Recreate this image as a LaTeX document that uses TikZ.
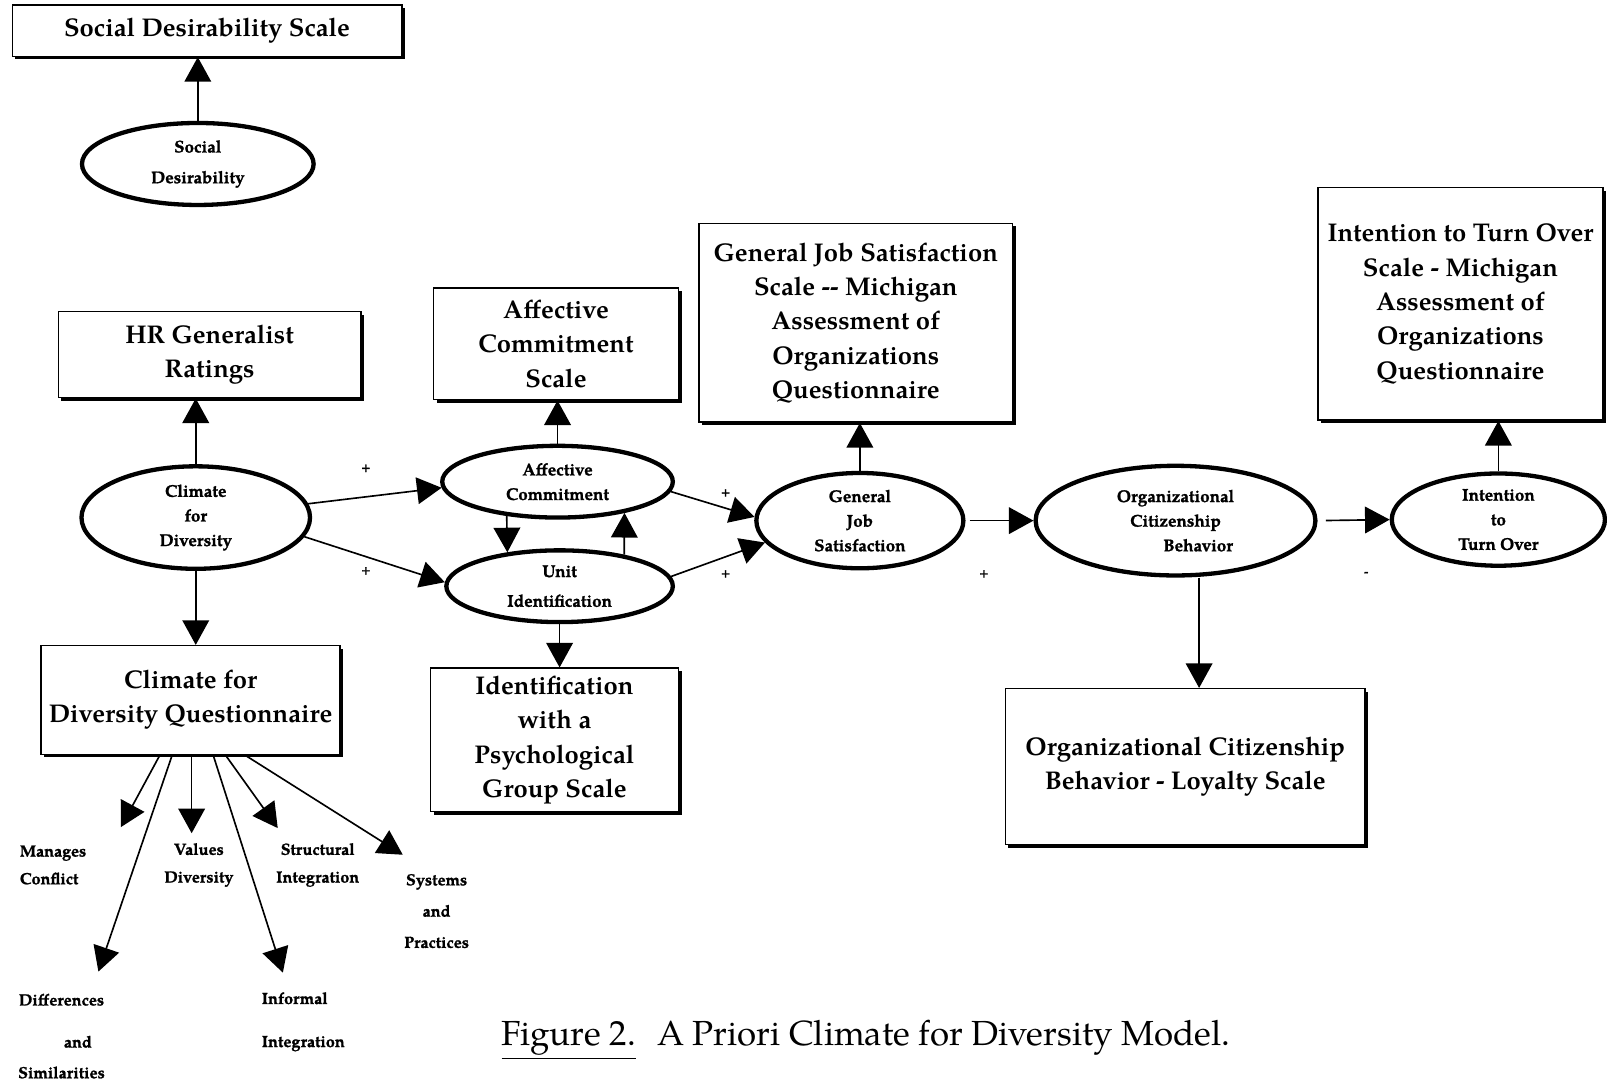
\documentclass[tikz,border=0pt]{standalone}
\usepackage{fontspec}
\setmainfont{texgyrepagella}[Extension=.otf, UprightFont=*-regular, BoldFont=*-bold, ItalicFont=*-italic, BoldItalicFont=*-bolditalic]
\newfontfamily\heavy{texgyrepagella-bold.otf}[FakeBold=1.3]
\usetikzlibrary{shapes.geometric, arrows.meta, shadows, calc}

\newcommand\boxfont{\fontsize{12.5}{16.75}\selectfont\bfseries}
\newcommand\ellfont{\fontsize{8.3}{12}\selectfont\heavy}
\newcommand\subfont{\fontsize{7.9}{13.5}\selectfont\heavy}

\begin{document}
\begin{tikzpicture}[x=0.5pt, y=-0.5pt,
  scalebox/.style={draw, line width=0.75pt, fill=white, align=center, inner sep=0pt,
    font=\boxfont, drop shadow={shadow xshift=1.5pt, shadow yshift=-1.5pt, opacity=1, fill=black}},
  latent/.style={ellipse, draw, line width=2.1pt, fill=white, inner sep=0pt, align=center},
  arr/.style={line width=0.8pt, -{Triangle[length=12pt,width=13pt]}},
  sign/.style={font=\fontsize{6}{6}\selectfont\heavy, inner sep=0pt},
  item/.style={font=\subfont, inner sep=0pt},
]
\useasboundingbox (0,0) rectangle (1568,1058);

% measurement boxes and latent constructs
\node[scalebox, minimum width=190pt, minimum height=25pt] (sds) at (202,30) {Social Desirability Scale};
\node[latent, minimum width=113pt, minimum height=40pt, font=\fontsize{8.3}{15}\selectfont\heavy] (sd) at (193,160) {Social\\Desirability};

\node[scalebox, minimum width=147.5pt, minimum height=42pt] (hr) at (204.5,346) {HR Generalist\\Ratings};
\node[latent, minimum width=111.5pt, minimum height=50pt, font=\ellfont] (cfd) at (191,505) {Climate\\for\\Diversity};
\node[scalebox, minimum width=146pt, minimum height=53pt] (cdq) at (186,683) {Climate for\\Diversity Questionnaire};

\node[scalebox, minimum width=119.5pt, minimum height=54.5pt] (acs) at (542.5,335.5) {Affective\\Commitment\\Scale};
\node[latent, minimum width=112.5pt, minimum height=35pt, font=\ellfont] (ac) at (544,470) {Affective\\Commitment};
\node[latent, minimum width=110.5pt, minimum height=35pt, font=\fontsize{8.3}{14.5}\selectfont\heavy] (ui) at (546,572) {Unit\\Identification};
\node[scalebox, minimum width=121pt, minimum height=70pt] (ipgs) at (541,722) {Identification\\with a\\Psychological\\Group Scale};

\node[scalebox, minimum width=153pt, minimum height=97pt] (gjsb) at (835,315) {General Job Satisfaction\\Scale -{}- Michigan\\Assessment of\\Organizations\\Questionnaire};
\node[latent, minimum width=101pt, minimum height=46.5pt, font=\ellfont] (gjs) at (839,508) {General\\Job\\Satisfaction};

\node[latent, minimum width=136.5pt, minimum height=53.5pt, font=\ellfont] (ocb) at (1147,508) {Organizational\\Citizenship\hspace*{4.5pt}\\\hspace*{22pt}Behavior};
\node[scalebox, minimum width=175.5pt, minimum height=76pt] (ocbl) at (1156.5,748) {Organizational Citizenship\\Behavior - Loyalty Scale};

\node[latent, minimum width=104pt, minimum height=45pt, font=\ellfont] (ito) at (1462,507) {Intention\\to\\Turn Over};
\node[scalebox, minimum width=139pt, minimum height=113.5pt] (itob) at (1425,296.5) {Intention to Turn Over\\Scale - Michigan\\Assessment of\\Organizations\\Questionnaire};

% facets of the climate questionnaire
\node[item, align=left, anchor=west] (mc) at (19,844) {Manages\\Conflict};
\node[item, align=center] (vd) at (194,844) {Values\\Diversity};
\node[item, align=center] (si) at (310,844) {Structural\\Integration};
\node[item, align=center, font=\fontsize{7.9}{15.25}\selectfont\heavy] (sp) at (426,889) {Systems\\and\\Practices};
\node[item, align=center, font=\fontsize{7.9}{15}\selectfont\heavy] (ds) at (60,1011) {Differences\\[5.5pt]\hspace*{16pt}and\\Similarities};
\node[item, align=left, anchor=west, font=\fontsize{7.9}{21}\selectfont\heavy] (ii) at (255,997) {Informal\\Integration};

\coordinate (tmc) at (118,807);
\coordinate (tds) at (96,948);
\coordinate (tvd) at (187,813);
\coordinate (tii) at (276,949);
\coordinate (tsi) at (271,808);
\coordinate (tsp) at (393,834);

% path signs
\node[sign] (p1) at (357,457) {+};
\node[sign] (p2) at (357,557) {+};
\node[sign] (p3) at (708,481) {+};
\node[sign] (p4) at (708,560) {+};
\node[sign] (p5) at (960,560) {+};
\node[sign] (m1) at (1333,560) {-};

% caption
\node[font=\fontsize{17}{20}\selectfont, inner sep=0pt] (cap) at (845,1015) {\underline{Figure 2.}\hspace{0.6em}A Priori Climate for Diversity Model.};

% connectors
\draw[arr] (sd.north) -- (sd.north |- sds.south);
\draw[arr] (cfd.north) -- (cfd.north |- hr.south);
\draw[arr] (cfd.south) -- (cfd.south |- cdq.north);
\draw[arr] (cfd.7) -- (ac.183);
\draw[arr] (cfd.350) -- (ui.178);
\draw[arr] (ac.214) -- (ui.147);
\draw[arr] (ui.26) -- (ac.335);
\draw[arr] (ac.north) -- (ac.north |- acs.south);
\draw[arr] (ui.south) -- (ui.south |- ipgs.north);
\draw[arr] (ac.355) -- (gjs.178);
\draw[arr] (ui.5) -- (gjs.193);
\draw[arr] (gjs.north) -- (gjs.north |- gjsb.south);
\draw[arr, shorten <=2pt] (gjs.east) -- (ocb.west);
\draw[arr, shorten <=4pt] (ocb.east) -- (ito.west);
\draw[arr] ([xshift=11.5pt]ocb.south) -- ([xshift=11.5pt]ocb.south |- ocbl.north);
\draw[arr] (ito.north) -- (ito.north |- itob.south);

\draw[arr] ([xshift=-15pt]cdq.south) -- (tmc);
\draw[arr] ([xshift=-9pt]cdq.south) -- (tds);
\draw[arr] ([xshift=0.5pt]cdq.south) -- (tvd);
\draw[arr] ([xshift=11pt]cdq.south) -- (tii);
\draw[arr] ([xshift=17pt]cdq.south) -- (tsi);
\draw[arr] ([xshift=26.5pt]cdq.south) -- (tsp);
\end{tikzpicture}
\end{document}
